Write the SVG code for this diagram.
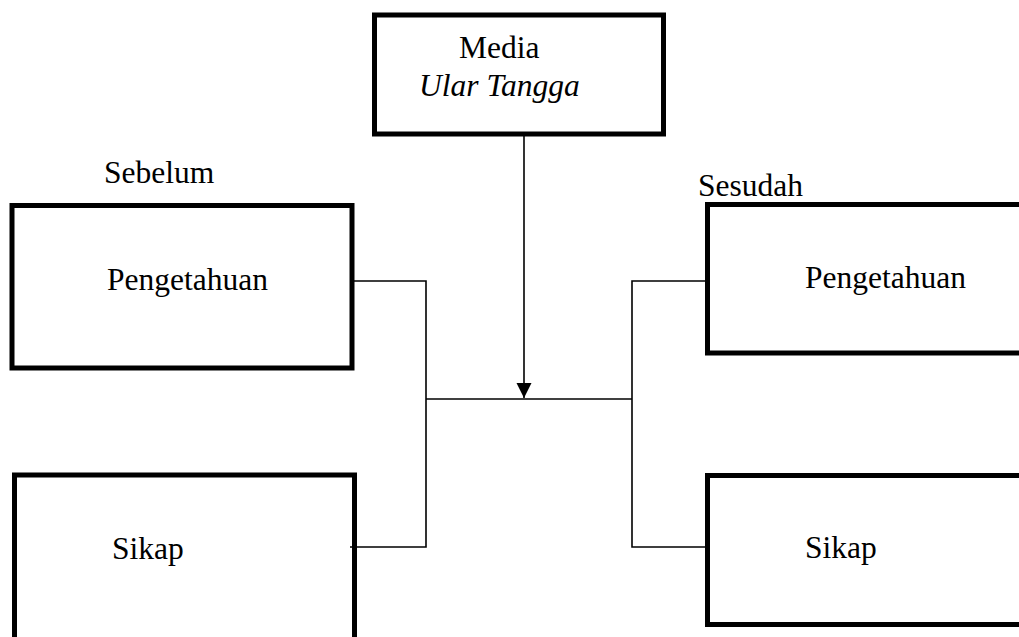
<svg xmlns="http://www.w3.org/2000/svg" width="1019" height="637" viewBox="0 0 1019 637">
<style>
.box{fill:#fff;stroke:#000;stroke-width:5}
.t{font-family:"Liberation Serif","Times New Roman",serif;font-size:31.5px;fill:#000}
.i{font-style:italic}
.c{fill:none;stroke:#000;stroke-width:1.6}
</style>
<defs>
<marker id="arr" markerUnits="userSpaceOnUse" markerWidth="16" markerHeight="16" refX="15" refY="8" orient="auto">
<path d="M0,0.5 L15,8 L0,15.5 Z" fill="#000"/>
</marker>
</defs>
<rect width="1019" height="637" fill="#fff"/>
<g id="media">
<rect class="box" x="374.5" y="15" width="289" height="119"/>
<text class="t" x="459" y="58">Media</text>
<text class="t i" x="419" y="96">Ular Tangga</text>
</g>
<text class="t" x="104" y="183">Sebelum</text>
<text class="t" x="698" y="196">Sesudah</text>
<g id="pengetahuan-sebelum">
<rect class="box" x="12" y="205.5" width="340" height="162.5"/>
<text class="t" x="107" y="290">Pengetahuan</text>
</g>
<g id="sikap-sebelum">
<rect class="box" x="14.5" y="475" width="340" height="180"/>
<text class="t" x="112" y="559">Sikap</text>
</g>
<g id="pengetahuan-sesudah">
<rect class="box" x="707.5" y="204.5" width="330" height="148.5"/>
<text class="t" x="805" y="288">Pengetahuan</text>
</g>
<g id="sikap-sesudah">
<rect class="box" x="707.5" y="475.5" width="330" height="149"/>
<text class="t" x="805" y="558">Sikap</text>
</g>
<g id="connectors">
<polyline class="c" points="352,281 426,281 426,547 350,547"/>
<polyline class="c" points="707,281 632,281 632,547 707,547"/>
<line class="c" x1="426" y1="399" x2="632" y2="399"/>
<line class="c" x1="524" y1="136" x2="524" y2="398" marker-end="url(#arr)"/>
</g>
</svg>
